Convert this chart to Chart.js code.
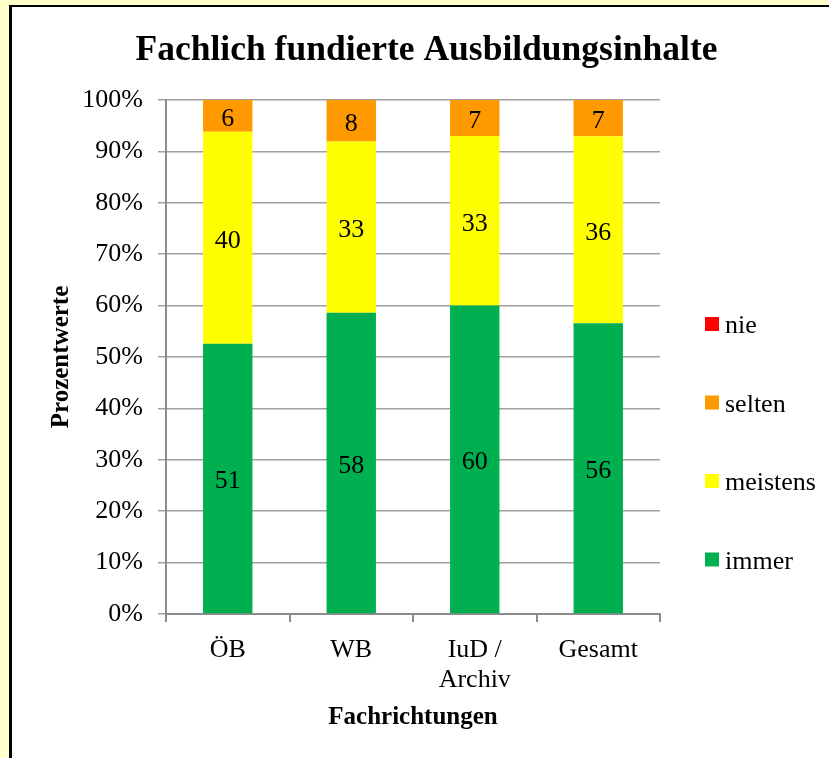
<!DOCTYPE html>
<html><head><meta charset="utf-8">
<script src="https://cdn.jsdelivr.net/npm/chart.js@4"></script>
<style>
html,body{margin:0;padding:0;background:#FFFFCC;width:829px;height:758px;overflow:hidden}
#frame{position:absolute;left:9px;top:5px;width:900px;height:900px;background:#fff;border-left:3px solid #000;border-top:2px solid #000}
#c{position:absolute;left:0;top:0}
</style></head><body>
<div id="frame"></div>
<canvas id="c" width="829" height="758"></canvas>
<script>
// ---- data ----
const categories = ['ÖB', 'WB', ['IuD /', 'Archiv'], 'Gesamt'];
const seriesNames = ['immer', 'meistens', 'selten', 'nie'];
const immer    = [51, 58, 60, 56];
const meistens = [40, 33, 33, 36];
const selten   = [6, 8, 7, 7];
const nie      = [0, 0, 0, 0];
const yTickLabels = ['0%','10%','20%','30%','40%','50%','60%','70%','80%','90%','100%'];
const chartTitle = 'Fachlich fundierte Ausbildungsinhalte';
const xTitle = 'Fachrichtungen';
const yTitle = 'Prozentwerte';

const seriesValues = [immer, meistens, selten, nie];
const colors = ['#00B050', '#FFFF00', '#FF9900', '#FF0000'];
const totals = categories.map((_, j) => seriesValues.reduce((s, a) => s + a[j], 0));

const FONT = 'Liberation Serif';

const datasets = seriesValues.map((vals, i) => ({
  label: seriesNames[i],
  data: vals.map((v, j) => v / totals[j] * 100),
  raw: vals,
  backgroundColor: colors[i],
  borderWidth: 0,
  barPercentage: 0.4,
  categoryPercentage: 1.0
}));

const valueLabels = {
  id: 'valueLabels',
  afterDatasetsDraw(chart) {
    const ctx = chart.ctx;
    ctx.save();
    ctx.font = '26px "' + FONT + '"';
    ctx.fillStyle = '#000';
    ctx.textAlign = 'center';
    ctx.textBaseline = 'middle';
    chart.data.datasets.forEach((ds, i) => {
      const meta = chart.getDatasetMeta(i);
      meta.data.forEach((bar, j) => {
        const v = ds.raw[j];
        if (!v) return;
        ctx.fillText(String(v), bar.x, (bar.y + bar.base) / 2 + 3);
      });
    });
    ctx.restore();
  }
};

const sideLegend = {
  id: 'sideLegend',
  afterDraw(chart) {
    const ctx = chart.ctx;
    const area = chart.chartArea;
    const ds = chart.data.datasets.slice().reverse();
    ctx.save();
    ctx.font = '26px "' + FONT + '"';
    ctx.textAlign = 'left';
    ctx.textBaseline = 'alphabetic';
    const bx = area.right + 45;
    ds.forEach((d, k) => {
      const base = 333 + k * 78.5;
      ctx.fillStyle = d.backgroundColor;
      ctx.fillRect(bx, base - 16, 14, 14);
      ctx.fillStyle = '#000';
      ctx.fillText(d.label, bx + 20, base);
    });
    ctx.restore();
  }
};

new Chart(document.getElementById('c'), {
  type: 'bar',
  data: { labels: categories, datasets },
  options: {
    responsive: false,
    animation: false,
    devicePixelRatio: 1,
    layout: { padding: { left: 43, right: 19, top: 0, bottom: 21 } },
    plugins: {
      legend: { display: false },
      tooltip: { enabled: false },
      title: {
        display: true,
        text: chartTitle,
        color: '#000',
        font: { family: FONT, size: 35.5, weight: 'bold', lineHeight: 1.2 },
        padding: { top: 30, bottom: 27.4 }
      }
    },
    scales: {
      x: {
        stacked: true,
        grid: { display: true, drawOnChartArea: false, drawTicks: true, tickLength: 8, color: '#8C8C8C', lineWidth: 2, offset: true },
        border: { display: true, color: '#8C8C8C', width: 2 },
        ticks: { color: '#000', font: { family: FONT, size: 26, lineHeight: 1.15 }, padding: 13, maxRotation: 0, autoSkip: false },
        title: { display: true, text: xTitle, color: '#000', font: { family: FONT, size: 25, weight: 'bold', lineHeight: 1.2 }, padding: { top: 4, bottom: 4 } },
        afterFit(s) { s.height = 123; }
      },
      y: {
        stacked: true,
        min: 0, max: 100,
        ticks: { stepSize: 10, color: '#000', font: { family: FONT, size: 26 }, padding: 15,
                 callback: (v, i) => yTickLabels[i] },
        grid: { color: '#A0A0A0', lineWidth: 1.5, tickLength: 8, drawTicks: true },
        border: { display: true, color: '#8C8C8C', width: 2 },
        title: { display: true, text: yTitle, color: '#000', font: { family: FONT, size: 25, weight: 'bold', lineHeight: 1.2 }, padding: { top: 4, bottom: 4 } },
        afterFit(s) { s.width = 123; }
      },
      y2: {
        type: 'linear',
        position: 'right',
        display: true,
        grid: { display: false },
        ticks: { display: false },
        border: { display: false },
        afterFit(s) { s.width = 150; }
      }
    }
  },
  plugins: [valueLabels, sideLegend]
});
</script>
</body></html>
